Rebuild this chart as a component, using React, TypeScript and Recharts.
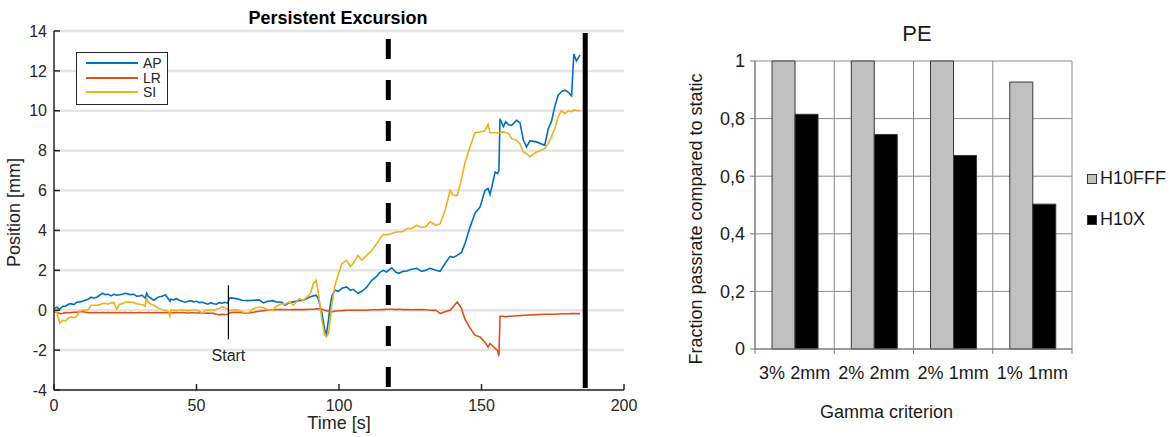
import React from "react";
import {
  Bar,
  BarChart,
  CartesianGrid,
  Label,
  Legend,
  Line,
  LineChart,
  ReferenceLine,
  XAxis,
  YAxis,
} from "recharts";

const FONT = "'Liberation Sans', Arial, Helvetica, sans-serif";
const INK = "#262626";

// ---- left panel: tracked target position ----
const timeS = [
  0, 1, 2, 3, 4, 5, 6, 7, 8, 9,
  10, 11, 12, 13, 14, 15, 16, 17, 18, 19,
  20, 21, 22, 23, 24, 25, 26, 27, 28, 29,
  30, 31, 32, 32.5, 33, 34, 35, 36, 37, 38,
  39, 40, 40.7, 41, 42, 43, 44, 45, 46, 47,
  48, 49, 50, 51, 52, 53, 54, 55, 56, 57,
  58, 59, 60, 61, 61.5, 62, 64, 66, 68, 70,
  72, 73.5, 75, 76.7, 78, 80, 81, 82.5, 84, 86,
  87.5, 89, 90, 91, 92, 92.8, 94, 95, 95.6, 96.3,
  97, 97.5, 98.5, 99.8, 101, 102.7, 104, 105, 106.7, 108,
  109.7, 111.5, 113.2, 114.4, 115.6, 116.7, 118.5, 120, 121, 122.5,
  123.8, 125.5, 127.3, 129, 130.5, 132, 134, 135.5, 137.2, 139,
  140.1, 141.5, 143, 144.2, 146, 147.7, 149.5, 151.2, 152.3, 153,
  154.8, 155.6, 156.1, 156.5, 157.7, 158.5, 159.5, 160.6, 162.3, 163.5,
  164.7, 165.8, 167, 169.3, 172.2, 173.4, 174.5, 175.7, 176.9, 178,
  179.3, 180.4, 181.6, 182.4, 183.3, 184.6,
];

const apMm = [
  0.1, 0.15, 0.05, 0.2, 0.2, 0.3, 0.33, 0.28, 0.4, 0.42,
  0.45, 0.5, 0.55, 0.65, 0.6, 0.65, 0.75, 0.85, 0.78, 0.8,
  0.72, 0.8, 0.75, 0.78, 0.8, 0.85, 0.82, 0.78, 0.8, 0.7,
  0.72, 0.75, 0.6, 0.85, 0.7, 0.6, 0.5, 0.6, 0.68, 0.7,
  0.78, 0.6, 0.45, 0.55, 0.52, 0.58, 0.5, 0.45, 0.4, 0.45,
  0.48, 0.42, 0.45, 0.38, 0.4, 0.35, 0.3, 0.38, 0.32, 0.3,
  0.38, 0.35, 0.4, 0.35, 0.6, 0.62, 0.58, 0.5, 0.48, 0.5,
  0.52, 0.37, 0.45, 0.48, 0.42, 0.4, 0.25, 0.38, 0.42, 0.48,
  0.5, 0.6, 0.68, 0.72, 0.75, 0.55, -0.15, -1.0, -1.2, -0.5,
  0.3, 0.7, 1.0, 0.95, 1.1, 1.17, 1.0, 1.05, 0.85, 0.95,
  1.15, 1.5, 1.7, 1.9, 2.0, 1.92, 2.13, 1.9, 1.85, 1.95,
  1.97, 2.05, 2.1, 1.95, 2.0, 2.1, 2.0, 1.95, 2.34, 2.7,
  2.65, 2.75, 2.9, 3.34, 4.18, 4.85, 5.18, 6.0, 6.1, 5.8,
  6.93, 6.85, 7.0, 9.6, 9.2, 9.45, 9.3, 9.27, 9.52, 9.4,
  8.52, 8.19, 8.5, 8.44, 8.27, 9.1, 9.44, 10.2, 10.78, 10.95,
  11.03, 10.94, 10.75, 12.85, 12.5, 12.8,
];

const lrMm = [
  -0.08, -0.1, -0.17, -0.15, -0.12, -0.13, -0.12, -0.1, -0.1, -0.08,
  -0.08, -0.1, -0.12, -0.13, -0.12, -0.12, -0.13, -0.12, -0.13, -0.12,
  -0.13, -0.12, -0.13, -0.12, -0.13, -0.12, -0.13, -0.12, -0.13, -0.13,
  -0.12, -0.13, -0.13, -0.13, -0.12, -0.13, -0.13, -0.12, -0.13, -0.13,
  -0.12, -0.13, -0.13, -0.13, -0.12, -0.13, -0.13, -0.12, -0.13, -0.14,
  -0.13, -0.13, -0.14, -0.13, -0.14, -0.15, -0.14, -0.15, -0.16, -0.2,
  -0.22, -0.2, -0.22, -0.2, -0.15, -0.12, -0.1, -0.13, -0.15, -0.1,
  -0.05, -0.02, 0, 0.02, 0.03, 0.03, 0.03, 0.02, 0.03, 0.03,
  0.03, 0.04, 0.05, 0.05, 0.07, 0.07, 0.05, 0, -0.02, -0.05,
  -0.1, -0.08, -0.05, -0.03, -0.02, 0, 0, 0, 0, 0,
  0, 0.02, 0.02, 0.03, 0.03, 0.05, 0.05, 0.03, 0.05, 0.03,
  0.03, 0.02, 0.03, 0.03, 0.02, 0, 0, -0.17, -0.08, 0,
  0.17, 0.42, 0.08, -0.45, -0.9, -1.25, -1.34, -1.6, -1.84, -1.67,
  -1.92, -2.0, -2.3, -0.3, -0.3, -0.33, -0.3, -0.3, -0.28, -0.27,
  -0.25, -0.25, -0.24, -0.22, -0.2, -0.2, -0.2, -0.2, -0.19, -0.18,
  -0.18, -0.18, -0.17, -0.17, -0.17, -0.17,
];

const siMm = [
  0, -0.1, -0.65, -0.5, -0.55, -0.4, -0.33, -0.38, -0.3, -0.05,
  0, 0, 0.02, 0.25, 0.25, 0.25, 0.28, 0.33, 0.35, 0.3,
  0.37, 0.38, 0.05, 0.3, 0.33, 0.4, 0.42, 0.4, 0.38, 0.33,
  0.3, 0.28, 0.2, 0.65, 0.4, 0.3, 0.25, 0.15, 0.08, 0.02,
  0, -0.05, -0.3, 0, 0, -0.02, 0, 0.02, 0, -0.02,
  0, 0.02, 0, -0.05, -0.17, 0, 0, 0.02, 0, 0.05,
  0.1, 0.17, 0.12, 0.05, 0, 0, 0.02, -0.08, -0.15, 0.08,
  0.17, 0.12, 0.02, 0, 0.2, 0.33, 0.3, 0.42, 0.25, 0.58,
  0.5, 0.7, 0.85, 1.33, 1.5, 0.83, -0.5, -1.25, -1.33, -1.15,
  -0.4, 0.3, 1.17, 1.83, 2.33, 2.5, 2.2, 2.35, 2.75, 2.5,
  2.75, 3.0, 3.33, 3.6, 3.8, 3.78, 3.85, 3.92, 3.93, 3.95,
  4.1, 4.1, 4.26, 4.15, 4.2, 4.43, 4.26, 4.34, 5.0, 6.0,
  5.76, 5.76, 6.6, 7.4, 8.2, 8.9, 8.94, 9.0, 9.32, 8.9,
  8.9, 8.9, 8.9, 8.9, 8.94, 8.9, 8.86, 8.6, 8.52, 8.35,
  7.93, 7.85, 7.7, 7.93, 8.1, 8.35, 8.69, 9.1, 9.69, 10.0,
  9.86, 10.0, 9.95, 10.05, 10.0, 10.0,
];

const timeTicks = [0, 50, 100, 150, 200];
const positionTicks = [-4, -2, 0, 2, 4, 6, 8, 10, 12, 14];
const startTime = 61.2;
const startSpan = [1.25, -1.45];
const dashedTime = 117.3;
const solidTime = 186.4;
const solidSpan = [13.9, -3.9];

// ---- right panel: gamma pass rates ----
const gammaCriteria = ["3% 2mm", "2% 2mm", "2% 1mm", "1% 1mm"];
const h10fffPass = [1, 1, 1, 0.927];
const h10xPass = [0.815, 0.745, 0.672, 0.503];
const passTicks = [0, 0.2, 0.4, 0.6, 0.8, 1];
const criterionEdges = [0, 1, 2, 3, 4];
const criterionTicks = [0, 0.5, 1, 1.5, 2, 2.5, 3, 3.5, 4];

const motionData = timeS.map((t, i) => ({ t, AP: apMm[i], LR: lrMm[i], SI: siMm[i] }));
const passData = gammaCriteria.map((criterion, i) => ({
  criterion,
  idx: i + 0.5,
  H10FFF: h10fffPass[i],
  H10X: h10xPass[i],
}));

const commaDecimal = (v: number) => String(v).replace(".", ",");

function MotionLegend({ payload }: any) {
  return (
    <div
      style={{
        width: 90,
        border: `1px solid ${INK}`,
        background: "#fff",
        padding: "3px 0 4px",
        fontFamily: FONT,
        fontSize: 14,
        lineHeight: "14.5px",
        color: INK,
      }}
    >
      {(payload || []).map((e: any) => (
        <div key={e.value} style={{ display: "flex", alignItems: "center", height: 14.5 }}>
          <span
            style={{
              display: "inline-block",
              width: 52,
              borderTop: `2px solid ${e.color}`,
              marginLeft: 9,
              marginRight: 5,
            }}
          />
          {e.value}
        </div>
      ))}
    </div>
  );
}

function PassLegend({ payload }: any) {
  return (
    <div style={{ fontFamily: FONT, fontSize: 18, color: "#1a1a1a" }}>
      {(payload || []).map((e: any) => (
        <div key={e.value} style={{ display: "flex", alignItems: "center", height: 41 }}>
          <span
            style={{
              display: "inline-block",
              width: 8,
              height: 8,
              background: e.color,
              border: "1px solid #333",
              marginRight: 3,
            }}
          />
          {e.value}
        </div>
      ))}
    </div>
  );
}

function CriterionTick({ x, y, payload }: any) {
  const v = payload.value;
  if (Number.isInteger(v)) {
    return <line x1={x} x2={x} y1={y} y2={y + 5} stroke="#777" />;
  }
  return (
    <text x={x} y={y + 30} textAnchor="middle" fontFamily={FONT} fontSize={18} fill="#1a1a1a">
      {gammaCriteria[Math.floor(v)]}
    </text>
  );
}

function MotionChart() {
  return (
    <LineChart
      width={640}
      height={437}
      data={motionData}
      margin={{ top: 31, right: 16, bottom: 0, left: 0 }}
    >
      <CartesianGrid xAxisId="b" yAxisId="l" vertical={false} stroke="#e4e4e4" strokeWidth={2.5} />
      <XAxis
        xAxisId="b"
        dataKey="t"
        type="number"
        domain={[0, 200]}
        ticks={timeTicks}
        interval={0}
        height={47}
        tickSize={-6}
        tickMargin={16}
        stroke={INK}
        strokeWidth={1.5}
        tick={{ fill: INK, fontSize: 16, fontFamily: FONT }}
      >
        <Label
          content={({ viewBox }: any) => (
            <text
              x={viewBox.x + viewBox.width / 2}
              y={viewBox.y + 33}
              textAnchor="middle"
              dominantBaseline="central"
              fontFamily={FONT}
              fontSize={18}
              fill={INK}
            >
              Time [s]
            </text>
          )}
        />
      </XAxis>
      <XAxis
        xAxisId="t"
        orientation="top"
        dataKey="t"
        type="number"
        domain={[0, 200]}
        ticks={timeTicks}
        interval={0}
        height={0}
        tickSize={-6}
        stroke={INK}
        strokeWidth={1.5}
        tickFormatter={() => ""}
      />
      <YAxis
        yAxisId="l"
        type="number"
        domain={[-4, 14]}
        ticks={positionTicks}
        interval={0}
        width={54}
        tickSize={-6}
        tickMargin={13}
        stroke={INK}
        strokeWidth={1.5}
        tick={{ fill: INK, fontSize: 16, fontFamily: FONT }}
      >
        <Label
          content={({ viewBox }: any) => {
            const cx = viewBox.x + 14;
            const cy = viewBox.y + viewBox.height / 2 + 2;
            return (
              <text
                x={cx}
                y={cy}
                transform={`rotate(-90 ${cx} ${cy})`}
                textAnchor="middle"
                dominantBaseline="central"
                fontFamily={FONT}
                fontSize={18}
                fill={INK}
              >
                Position [mm]
              </text>
            );
          }}
        />
      </YAxis>
      <YAxis
        yAxisId="r"
        orientation="right"
        type="number"
        domain={[-4, 14]}
        ticks={positionTicks}
        interval={0}
        width={0}
        tickSize={-6}
        stroke={INK}
        strokeWidth={1.5}
        tickFormatter={() => ""}
      />
      <Line xAxisId="b" yAxisId="l" type="linear" dataKey="AP" stroke="#0072BD" strokeWidth={1.6} dot={false} isAnimationActive={false} />
      <Line xAxisId="b" yAxisId="l" type="linear" dataKey="LR" stroke="#D95319" strokeWidth={1.6} dot={false} isAnimationActive={false} />
      <Line xAxisId="b" yAxisId="l" type="linear" dataKey="SI" stroke="#EDB120" strokeWidth={1.6} dot={false} isAnimationActive={false} />
      <ReferenceLine
        xAxisId="b"
        yAxisId="l"
        x={dashedTime}
        stroke="#000"
        strokeWidth={5}
        strokeDasharray="20 21"
        strokeDashoffset={-3}
      />
      <ReferenceLine
        xAxisId="b"
        yAxisId="l"
        segment={[
          { x: solidTime, y: solidSpan[0] },
          { x: solidTime, y: solidSpan[1] },
        ]}
        stroke="#000"
        strokeWidth={5}
      />
      <ReferenceLine
        xAxisId="b"
        yAxisId="l"
        segment={[
          { x: startTime, y: startSpan[0] },
          { x: startTime, y: startSpan[1] },
        ]}
        stroke="#000"
        strokeWidth={1.2}
        label={{ value: "Start", position: "bottom", offset: 10, fill: INK, fontSize: 16, fontFamily: FONT }}
      />
      <Legend
        layout="vertical"
        align="center"
        verticalAlign="middle"
        content={<MotionLegend />}
        wrapperStyle={{ left: 76, top: 52, width: "auto", height: "auto" }}
      />
    </LineChart>
  );
}

function PassChart() {
  return (
    <BarChart
      width={533}
      height={437}
      data={passData}
      margin={{ top: 61, right: 101, bottom: 0, left: 0 }}
      barCategoryGap="21.5%"
      barGap={0}
    >
      <CartesianGrid xAxisId="edges" verticalValues={criterionEdges} stroke="#8a8a8a" />
      <XAxis xAxisId="cat" dataKey="criterion" hide height={0} />
      <XAxis
        xAxisId="edges"
        dataKey="idx"
        type="number"
        domain={[0, 4]}
        ticks={criterionTicks}
        interval={0}
        height={88}
        tickLine={false}
        tickSize={0}
        tickMargin={0}
        stroke="#777"
        tick={(props: any) => <CriterionTick {...props} />}
      >
        <Label
          content={({ viewBox }: any) => (
            <text
              x={viewBox.x + viewBox.width / 2 - 27}
              y={viewBox.y + 63}
              textAnchor="middle"
              dominantBaseline="central"
              fontFamily={FONT}
              fontSize={18}
              fill="#1a1a1a"
            >
              Gamma criterion
            </text>
          )}
        />
      </XAxis>
      <YAxis
        type="number"
        domain={[0, 1]}
        ticks={passTicks}
        interval={0}
        width={115}
        tickSize={5}
        tickMargin={5}
        stroke="#777"
        tickFormatter={commaDecimal}
        tick={{ fill: "#1a1a1a", fontSize: 18, fontFamily: FONT }}
      >
        <Label
          content={({ viewBox }: any) => {
            const cx = viewBox.x + 56;
            const cy = viewBox.y + viewBox.height / 2 + 14;
            return (
              <text
                x={cx}
                y={cy}
                transform={`rotate(-90 ${cx} ${cy})`}
                textAnchor="middle"
                dominantBaseline="central"
                fontFamily={FONT}
                fontSize={18}
                fill="#1a1a1a"
              >
                Fraction passrate compared to static
              </text>
            );
          }}
        />
      </YAxis>
      <Bar xAxisId="cat" dataKey="H10FFF" fill="#c0c0c0" stroke="#3a3a3a" strokeWidth={1} isAnimationActive={false} />
      <Bar xAxisId="cat" dataKey="H10X" fill="#000000" stroke="#3a3a3a" strokeWidth={1} isAnimationActive={false} />
      <Legend
        layout="vertical"
        align="center"
        verticalAlign="middle"
        content={<PassLegend />}
        wrapperStyle={{ left: 447, top: 158, width: "auto", height: "auto" }}
      />
    </BarChart>
  );
}

export default function App() {
  return (
    <div
      style={{
        position: "absolute",
        left: 0,
        top: 0,
        width: 1173,
        height: 437,
        background: "#fff",
        fontFamily: FONT,
      }}
    >
      <div
        style={{
          position: "absolute",
          left: 0,
          top: 8,
          width: 676,
          textAlign: "center",
          fontSize: 18,
          fontWeight: "bold",
          lineHeight: "20px",
          color: "#000",
        }}
      >
        Persistent Excursion
      </div>
      <div
        style={{
          position: "absolute",
          left: 817,
          top: 23,
          width: 200,
          textAlign: "center",
          fontSize: 22,
          lineHeight: "22px",
          color: "#1a1a1a",
        }}
      >
        PE
      </div>
      <div style={{ position: "absolute", left: 0, top: 0 }}>
        <MotionChart />
      </div>
      <div style={{ position: "absolute", left: 640, top: 0 }}>
        <PassChart />
      </div>
    </div>
  );
}
